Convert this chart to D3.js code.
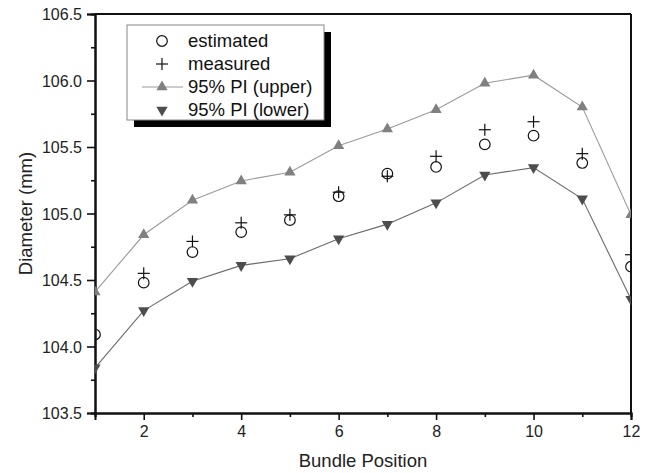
<!DOCTYPE html>
<html>
<head>
<meta charset="utf-8">
<script src="https://cdn.jsdelivr.net/npm/d3@7"></script>
<style>
  html, body { margin: 0; padding: 0; background: #fff; }
  svg { display: block; font-family: "Liberation Sans", Arial, sans-serif; }
</style>
</head>
<body>
<svg id="chart" width="650" height="473"></svg>
<script>
// ---- data ----
const positions = [1, 2, 3, 4, 5, 6, 7, 8, 9, 10, 11, 12];
const estimated = [104.09, 104.48, 104.71, 104.86, 104.95, 105.13, 105.30, 105.35, 105.52, 105.585, 105.38, 104.60];
const measured  = [null, 104.55, 104.79, 104.93, 104.99, 105.16, 105.28, 105.43, 105.63, 105.69, 105.45, 104.69];
const piUpper   = [104.41, 104.84, 105.10, 105.245, 105.31, 105.51, 105.635, 105.78, 105.98, 106.04, 105.80, 104.99];
const piLower   = [103.84, 104.27, 104.49, 104.61, 104.66, 104.81, 104.92, 105.08, 105.29, 105.345, 105.11, 104.355];
const xMajorTicks = [2, 4, 6, 8, 10, 12];
const xMinorTicks = [1, 3, 5, 7, 9, 11];
const yMajorTicks = [103.5, 104.0, 104.5, 105.0, 105.5, 106.0, 106.5];
const yMinorTicks = [103.75, 104.25, 104.75, 105.25, 105.75, 106.25];
const legendLabels = ["estimated", "measured", "95% PI (upper)", "95% PI (lower)"];
const xLabel = "Bundle Position";
const yLabel = "Diameter (mm)";

// ---- layout ----
const W = 650, H = 473;
const m = { left: 95, right: 19, top: 14, bottom: 60 };
const svg = d3.select("#chart");

const x = d3.scaleLinear().domain([1, 12]).range([m.left, W - m.right]);
const y = d3.scaleLinear().domain([103.5, 106.5]).range([H - m.bottom, m.top]);

const upperLineColor = "#9a9a9a", upperMarkColor = "#808080";
const lowerLineColor = "#6a6a6a", lowerMarkColor = "#4d4d4d";

svg.append("defs").append("clipPath").attr("id", "plotclip")
  .append("rect").attr("x", x(1)).attr("y", y(106.5))
  .attr("width", x(12) - x(1)).attr("height", y(103.5) - y(106.5));

// ---- axes ----
const axisFont = 16;
const gx = svg.append("g").attr("transform", `translate(0,${y(103.5)})`);
gx.call(d3.axisBottom(x).tickValues(xMajorTicks).tickFormat(d3.format("d")).tickSize(7).tickPadding(6));
const gxm = svg.append("g").attr("transform", `translate(0,${y(103.5)})`);
gxm.call(d3.axisBottom(x).tickValues(xMinorTicks).tickFormat("").tickSize(4));

const gy = svg.append("g").attr("transform", `translate(${x(1)},0)`);
gy.call(d3.axisLeft(y).tickValues(yMajorTicks).tickFormat(d3.format(".1f")).tickSize(8).tickPadding(5));
const gym = svg.append("g").attr("transform", `translate(${x(1)},0)`);
gym.call(d3.axisLeft(y).tickValues(yMinorTicks).tickFormat("").tickSize(4));

[gx, gxm, gy, gym].forEach(g => {
  g.select(".domain").attr("stroke", "#111").attr("stroke-width", 2);
  g.selectAll(".tick line").attr("stroke", "#111").attr("stroke-width", 1.6);
  g.selectAll(".tick text").attr("fill", "#222").style("font-size", axisFont + "px")
    .style("font-family", '"Liberation Sans", Arial, sans-serif');
});
gy.selectAll(".tick text").attr("dy", "0.36em");

// top and right borders
svg.append("line").attr("x1", x(1)).attr("x2", x(12)).attr("y1", y(106.5)).attr("y2", y(106.5))
  .attr("stroke", "#111").attr("stroke-width", 2);
svg.append("line").attr("x1", x(12)).attr("x2", x(12)).attr("y1", y(106.5)).attr("y2", y(103.5))
  .attr("stroke", "#111").attr("stroke-width", 2);

// axis titles
svg.append("text").attr("x", (x(1) + x(12)) / 2).attr("y", 467)
  .attr("text-anchor", "middle").style("font-size", "18.5px").attr("fill", "#222").text(xLabel);
svg.append("text").attr("transform", `translate(32,${(y(103.5) + y(106.5)) / 2}) rotate(-90)`)
  .attr("text-anchor", "middle").style("font-size", "18.5px").attr("fill", "#222").text(yLabel);

// ---- marks ----
const plot = svg.append("g").attr("clip-path", "url(#plotclip)");
const line = d3.line().x((d, i) => x(positions[i])).y(d => y(d));

const triUp = d3.symbol().type(d3.symbolTriangle).size(55);
function triDownPath() { return triUp(); }

plot.append("path").datum(piUpper).attr("d", line).attr("fill", "none")
  .attr("stroke", upperLineColor).attr("stroke-width", 1.1);
plot.append("path").datum(piLower).attr("d", line).attr("fill", "none")
  .attr("stroke", lowerLineColor).attr("stroke-width", 1.1);

plot.selectAll(".up").data(piUpper).join("path").attr("class", "up")
  .attr("d", triUp()).attr("fill", upperMarkColor)
  .attr("transform", (d, i) => `translate(${x(positions[i])},${y(d)})`);
plot.selectAll(".dn").data(piLower).join("path").attr("class", "dn")
  .attr("d", triUp()).attr("fill", lowerMarkColor)
  .attr("transform", (d, i) => `translate(${x(positions[i])},${y(d)}) rotate(180)`);

plot.selectAll(".est").data(estimated).join("circle").attr("class", "est")
  .attr("cx", (d, i) => x(positions[i])).attr("cy", d => y(d)).attr("r", 5.3)
  .attr("fill", "none").attr("stroke", "#111").attr("stroke-width", 1.2);

const meas = measured.map((v, i) => ({ p: positions[i], v })).filter(d => d.v !== null);
const plusG = plot.selectAll(".meas").data(meas).join("g").attr("class", "meas")
  .attr("transform", d => `translate(${x(d.p)},${y(d.v)})`);
plusG.append("line").attr("x1", -6).attr("x2", 6).attr("stroke", "#111").attr("stroke-width", 1.2);
plusG.append("line").attr("y1", -6).attr("y2", 6).attr("stroke", "#111").attr("stroke-width", 1.2);

// ---- legend ----
const lg = svg.append("g");
const lx = 127, ly = 25, lw = 197, lh = 95;
lg.append("rect").attr("x", lx + 7).attr("y", ly + 7).attr("width", lw).attr("height", lh).attr("fill", "#000");
lg.append("rect").attr("x", lx).attr("y", ly).attr("width", lw).attr("height", lh)
  .attr("fill", "#fff").attr("stroke", "#888").attr("stroke-width", 1);
const rowY = [41, 64, 87, 110];
const symX = 162, textX = 188;
legendLabels.forEach((t, i) => {
  lg.append("text").attr("x", textX).attr("y", rowY[i]).attr("dy", "0.35em")
    .style("font-size", "18.5px").attr("fill", "#111").text(t);
});
lg.append("circle").attr("cx", symX).attr("cy", rowY[0]).attr("r", 5.3)
  .attr("fill", "none").attr("stroke", "#111").attr("stroke-width", 1.2);
lg.append("line").attr("x1", symX - 6).attr("x2", symX + 6).attr("y1", rowY[1]).attr("y2", rowY[1]).attr("stroke", "#111").attr("stroke-width", 1.2);
lg.append("line").attr("x1", symX).attr("x2", symX).attr("y1", rowY[1] - 6).attr("y2", rowY[1] + 6).attr("stroke", "#111").attr("stroke-width", 1.2);
lg.append("line").attr("x1", 142).attr("x2", 183).attr("y1", rowY[2]).attr("y2", rowY[2])
  .attr("stroke", upperLineColor).attr("stroke-width", 1.1);
lg.append("path").attr("d", triUp()).attr("fill", upperMarkColor)
  .attr("transform", `translate(${symX},${rowY[2]})`);
lg.append("path").attr("d", triUp()).attr("fill", lowerMarkColor)
  .attr("transform", `translate(${symX},${rowY[3]}) rotate(180)`);
</script>
</body>
</html>
